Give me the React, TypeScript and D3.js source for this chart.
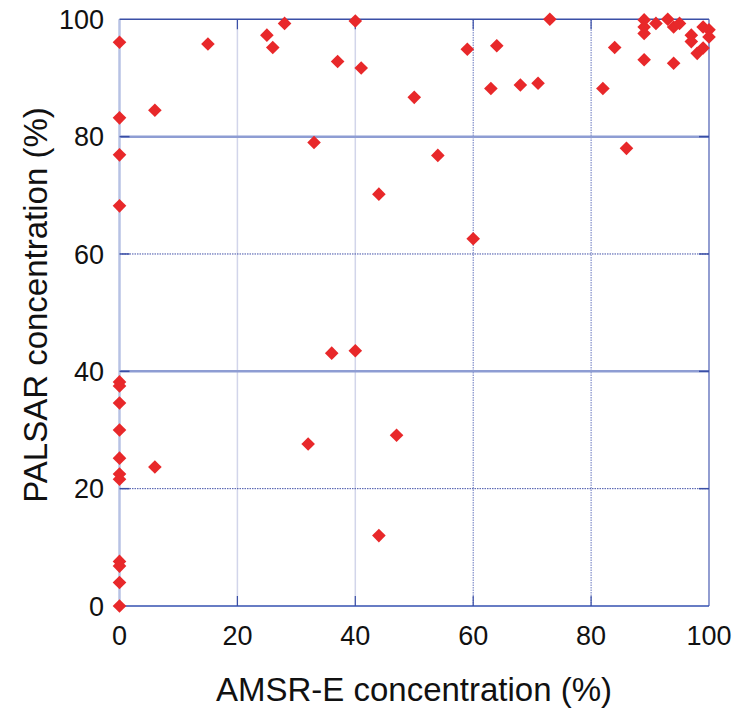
import React from 'react';
import * as d3 from 'd3';

// AMSR-E (x) vs PALSAR (y) ice concentration, %
const amsrValues = [
  0, 0, 0, 0, 0, 0, 0, 0, 0, 0, 0, 0, 0, 0, 0,
  6, 6, 15, 25, 26, 28, 32, 33, 36, 37, 40, 40, 41, 44, 44, 47, 50, 54,
  59, 60, 63, 64, 68, 71, 73, 82, 84, 86, 89, 89, 89, 89, 91, 93, 94, 94,
  95, 97, 97, 98, 99, 99, 100, 100,
];
const palsarValues = [
  96.1, 83.2, 76.9, 68.2, 38.2, 37.5, 34.6, 30.0, 25.2, 22.5, 21.6, 7.6, 6.8, 4.0, 0,
  84.5, 23.7, 95.8, 97.3, 95.2, 99.3, 27.6, 79.0, 43.1, 92.8, 99.7, 43.5, 91.7, 70.2, 12.0, 29.1, 86.7, 76.8,
  94.9, 62.6, 88.2, 95.5, 88.8, 89.1, 100, 88.2, 95.2, 78.0, 93.1, 99.9, 98.7, 97.6, 99.3, 100, 98.7, 92.5,
  99.3, 97.3, 96.2, 94.2, 95.1, 98.7, 98.2, 97.0,
];
const tickValues = [0, 20, 40, 60, 80, 100];
const xTitle = 'AMSR-E concentration (%)';
const yTitle = 'PALSAR concentration (%)';

const width = 738;
const height = 716;
const font = '"Liberation Sans", Arial, Helvetica, sans-serif';

export default function App() {
  const x = d3.scaleLinear().domain([0, 100]).range([119.5, 709]);
  const y = d3.scaleLinear().domain([0, 100]).range([606, 19.3]);
  const points = amsrValues.map((v, i) => ({ x: v, y: palsarValues[i] }));
  const dk = '#3a4fa6';
  const r = 6.8;

  return (
    <div style={{ position: 'absolute', left: 0, top: 0, background: '#fff' }}>
      <svg width={width} height={height} style={{ display: 'block' }}>
        <rect width={width} height={height} fill="#ffffff" />

        {/* vertical grid */}
        {[20, 40].map(t => (
          <line key={'vl' + t} x1={x(t)} x2={x(t)} y1={y(0)} y2={y(100)} stroke="#d2d5ea" strokeWidth={1.5} />
        ))}
        {[60, 80].map(t => (
          <line key={'vd' + t} x1={x(t)} x2={x(t)} y1={y(0)} y2={y(100)} stroke="#6674bd" strokeWidth={1} strokeDasharray="1.5,1" />
        ))}

        {/* horizontal grid */}
        {[80, 40].map(t => (
          <line key={'hl' + t} x1={x(0)} x2={x(100)} y1={y(t)} y2={y(t)} stroke="#8e9dd3" strokeWidth={2.5} />
        ))}
        {[60, 20].map(t => (
          <line key={'hd' + t} x1={x(0)} x2={x(100)} y1={y(t)} y2={y(t)} stroke="#4050a8" strokeWidth={1} strokeDasharray="1.5,1" />
        ))}

        {/* frame */}
        <line x1={x(0)} x2={x(0)} y1={y(0)} y2={y(100)} stroke="#b7c2e4" strokeWidth={2.5} />
        <line x1={x(0)} x2={x(100)} y1={y(100)} y2={y(100)} stroke={dk} strokeWidth={1.5} />
        <line x1={x(100)} x2={x(100)} y1={y(0)} y2={y(100)} stroke="#4a5db2" strokeWidth={1.2} />
        <line x1={x(0)} x2={x(100)} y1={y(0)} y2={y(0)} stroke="#3550b0" strokeWidth={1.5} />

        {/* inward ticks */}
        {tickValues.slice(1, -1).map(t => (
          <g key={'tk' + t}>
            <line x1={x(0)} x2={x(0) + 10} y1={y(t)} y2={y(t)} stroke={dk} strokeWidth={1.5} />
            <line x1={x(100) - 10} x2={x(100)} y1={y(t)} y2={y(t)} stroke={dk} strokeWidth={1.5} />
            <line x1={x(t)} x2={x(t)} y1={y(0)} y2={y(0) - 10} stroke={dk} strokeWidth={1.2} />
            <line x1={x(t)} x2={x(t)} y1={y(100)} y2={y(100) + 10} stroke={dk} strokeWidth={1.2} />
          </g>
        ))}

        {/* points */}
        {points.map((p, i) => {
          const cx = x(p.x);
          const cy = y(p.y);
          return (
            <path
              key={i}
              d={`M${cx},${cy - r}L${cx + r},${cy}L${cx},${cy + r}L${cx - r},${cy}Z`}
              fill="#e8282a"
            />
          );
        })}

        {/* tick labels */}
        {tickValues.map(t => (
          <text key={'xl' + t} x={x(t)} y={645} textAnchor="middle" fontFamily={font} fontSize={27} fill="#111">
            {t}
          </text>
        ))}
        {tickValues.map(t => (
          <text key={'yl' + t} x={104} y={y(t) + 9.8} textAnchor="end" fontFamily={font} fontSize={27} fill="#111">
            {t}
          </text>
        ))}

        {/* axis titles */}
        <text x={414} y={701} textAnchor="middle" fontFamily={font} fontSize={33} fill="#111">
          {xTitle}
        </text>
        <text
          transform={`translate(47, 305) rotate(-90)`}
          textAnchor="middle"
          fontFamily={font}
          fontSize={33}
          fill="#111"
        >
          {yTitle}
        </text>
      </svg>
    </div>
  );
}
